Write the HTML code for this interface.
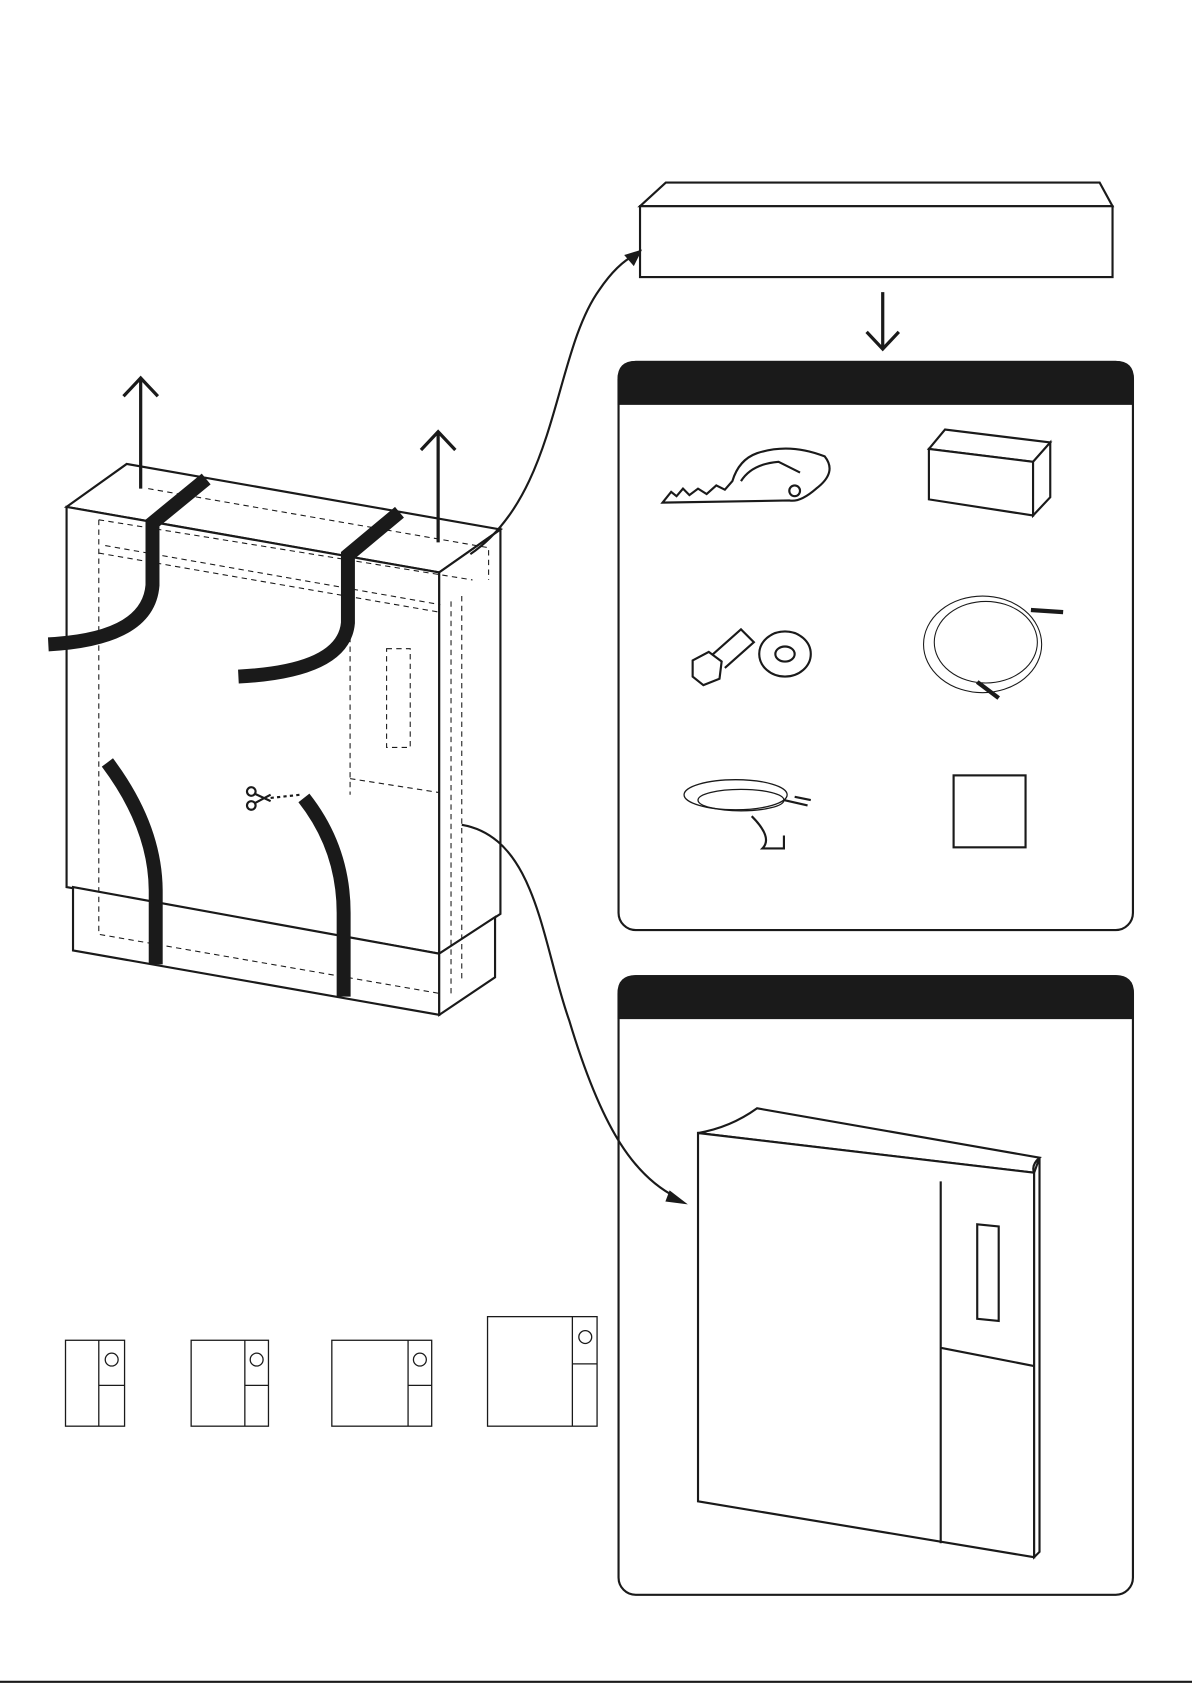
<!DOCTYPE html>
<html><head><meta charset="utf-8"><style>html,body{margin:0;padding:0;background:#fff}svg{display:block}</style></head><body>
<svg width="1192" height="1685" viewBox="0 0 1110 1569" preserveAspectRatio="none" xmlns="http://www.w3.org/2000/svg" fill="none" stroke="#1a1a1a" stroke-width="2">
<polygon points="596,192 620,170 1024,170 1036,192" fill="#fff"/>
<rect x="596" y="192" width="440" height="66" fill="#fff"/>
<path d="M822,272 V325 M807,309 L822,325 L837,309" stroke-width="3"/>
<rect x="576" y="337" width="479" height="529" rx="16"/>
<path d="M576,376 V353 Q576,337 592,337 H1039 Q1055,337 1055,353 V376 Z" fill="#1a1a1a"/>
<rect x="576" y="909" width="479" height="576" rx="16"/>
<path d="M576,948 V925 Q576,909 592,909 H1039 Q1055,909 1055,925 V948 Z" fill="#1a1a1a"/>
<path d="M617,468 L625,458 L630,462 L636,455 L642,461 L650,455 L658,460 L667,452 L675,456 L682,448 Q688,428 705,422 Q735,412 768,425 Q780,440 760,455 Q745,468 735,466 L617,468 Z"/>
<circle cx="740" cy="457" r="5"/><path d="M690,448 Q700,432 725,430 L745,440"/>
<polygon points="865,418 880,400 978,412 962,430" fill="#fff"/>
<polygon points="865,418 962,430 962,480 865,465" fill="#fff"/>
<polygon points="962,430 978,412 978,463 962,480" fill="#fff"/>
<polygon points="645,615 660,607 672,616 670,632 655,638 645,630" fill="#fff"/>
<path d="M663,610 L690,586 L702,598 L675,622"/>
<ellipse cx="731" cy="609" rx="24" ry="21"/><ellipse cx="731" cy="609" rx="9" ry="7"/>
<ellipse cx="915" cy="600" rx="55" ry="45" stroke-width="1"/><ellipse cx="918" cy="598" rx="48" ry="38" stroke-width="1"/>
<path d="M960,568 L990,570 M910,635 L930,650" stroke-width="4"/>
<ellipse cx="685" cy="740" rx="48" ry="14" stroke-width="1.2"/><ellipse cx="690" cy="745" rx="40" ry="10" stroke-width="1.2"/>
<path d="M730,745 L752,750 M740,742 L755,745 M700,760 Q720,780 710,790 L730,790 L730,778"/>
<rect x="888" y="722" width="67" height="67"/>
<polygon points="62,472 118,432 466,493 409,533" fill="#fff"/>
<polygon points="62,472 409,533 409,888 62,826" fill="#fff"/>
<polygon points="409,533 466,493 466,851 409,888" fill="#fff"/>
<polygon points="68,826 409,888 409,945 68,885" fill="#fff"/>
<polygon points="409,888 461,854 461,910 409,945" fill="#fff"/>
<g stroke-dasharray="5,4" stroke-width="1">
<path d="M92,484 L92,870 L409,925 M92,484 L440,540 M92,515 L409,570 M98,508 L410,563 M326,548 L326,740 M326,725 L409,738 M420,560 L420,925 M430,555 L430,915 M138,455 L455,510 L455,540"/>
<rect x="360" y="604" width="22" height="92"/>
</g>
<g stroke="#1a1a1a" stroke-width="13" fill="none">
<path d="M192,446 L142,487 L142,545 Q138,595 45,600"/>
<path d="M372,477 L324,517 L324,580 Q320,625 222,630"/>
<path d="M100,710 Q145,770 145,830 L145,898"/>
<path d="M283,743 Q320,790 320,850 L320,928"/>
</g>
<circle cx="234" cy="737" r="4"/><circle cx="234" cy="750" r="4"/>
<path d="M237,739 L252,746 M237,748 L252,740"/>
<path d="M252,743 L280,740" stroke-dasharray="3,3"/>
<path d="M131,455 V352 M115,369 L131,352 L147,369" stroke-width="3"/>
<path d="M408,505 V402 M392,419 L408,402 L424,419" stroke-width="3"/>
<path d="M438,516 C520,460 515,330 558,270 Q575,245 592,237"/>
<polygon points="596,234 583,238 590,246" fill="#1a1a1a"/>
<path d="M430,768 C500,780 505,880 530,950 C560,1050 590,1095 630,1115"/>
<polygon points="637,1120 624,1110 621,1118" fill="#1a1a1a"/>
<path d="M650,1055 Q680,1050 705,1032 L968,1078 Q960,1085 963,1092 L650,1055 Z" fill="#fff"/>
<polygon points="650,1055 963,1092 963,1450 650,1398" fill="#fff"/>
<polygon points="963,1092 968,1078 968,1445 963,1450" fill="#fff"/>
<path d="M876,1100 V1437 M876,1255 L963,1272"/>
<polygon points="910,1140 930,1142 930,1230 910,1228"/>
<g stroke-width="1.2">
<rect x="61" y="1248" width="55" height="80"/><path d="M92,1248 V1328 M92,1290 H116"/><circle cx="104" cy="1266" r="6"/>
<rect x="178" y="1248" width="72" height="80"/><path d="M228,1248 V1328 M228,1290 H250"/><circle cx="239" cy="1266" r="6"/>
<rect x="309" y="1248" width="93" height="80"/><path d="M380,1248 V1328 M380,1290 H402"/><circle cx="391" cy="1266" r="6"/>
<rect x="454" y="1226" width="102" height="102"/><path d="M533,1226 V1328 M533,1270 H556"/><circle cx="545" cy="1245" r="6"/>
</g>
<path d="M0,1566 H1110" stroke-width="2"/>
</svg>
</body></html>
